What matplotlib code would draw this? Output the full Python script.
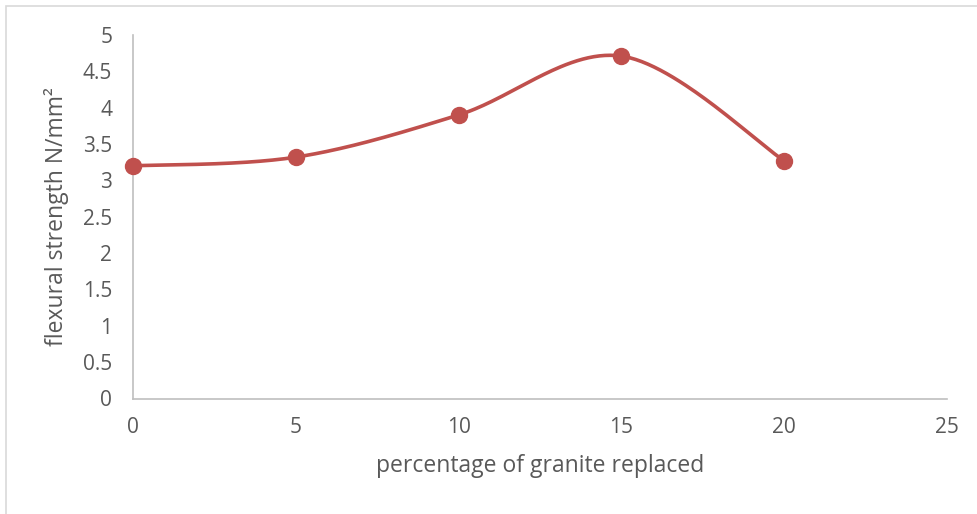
import numpy as np
import matplotlib.pyplot as plt
from matplotlib.patches import Rectangle

# data
pct = [0, 5, 10, 15, 20]
strength = [3.20, 3.32, 3.90, 4.71, 3.27]
xticks = [0, 5, 10, 15, 20, 25]
yticks = [0, 0.5, 1, 1.5, 2, 2.5, 3, 3.5, 4, 4.5, 5]


# ====================================================
def smooth(xs, ys, n=60):
	# cubic bezier through points, excel style smoothing
	x = np.array(xs, dtype=float)
	y = np.array(ys, dtype=float)
	px = np.concatenate([[x[0]], x, [x[-1]]])
	py = np.concatenate([[y[0]], y, [y[-1]]])
	out_x, out_y = [], []
	t = np.linspace(0, 1, n)
	for i in range(len(x) - 1):
		p0 = np.array([x[i], y[i]])
		p3 = np.array([x[i + 1], y[i + 1]])
		p1 = p0 + (np.array([px[i + 2], py[i + 2]]) - np.array([px[i], py[i]])) / 6
		p2 = p3 - (np.array([px[i + 3], py[i + 3]]) - np.array([px[i + 1], py[i + 1]])) / 6
		b = ((1 - t)**3)[:, None]*p0 + (3*(1 - t)**2*t)[:, None]*p1 \
			+ (3*(1 - t)*t**2)[:, None]*p2 + (t**3)[:, None]*p3
		out_x.extend(b[:, 0])
		out_y.extend(b[:, 1])
	return out_x, out_y


# ====================================================
def main():
	plt.rcParams['font.family'] = ['Open Sans', 'DejaVu Sans']
	fig = plt.figure(figsize=(9.77, 5.14), dpi=100)
	fig.patches.append(Rectangle((6/977, -0.1), 1.2, 1 - 6/514 + 0.1, transform=fig.transFigure,
		fill=False, edgecolor='#D9D9D9', linewidth=1.2))
	ax = fig.add_axes([133/977, 1 - 398.5/514, 814/977, 363.5/514])

	sx, sy = smooth(pct, strength)
	ax.plot(sx, sy, color='#C0504D', linewidth=2.6, solid_capstyle='round', clip_on=False)
	ax.plot(pct, strength, 'o', color='#C0504D', markersize=11.5, clip_on=False, zorder=5)

	ax.set_xlim(0, 25)
	ax.set_ylim(0, 5)
	ax.set_xticks(xticks)
	ax.set_yticks(yticks)
	ax.set_yticklabels([('%g' % v) for v in yticks])
	ax.tick_params(length=0, labelsize=15, colors='#595959')
	ax.tick_params(axis='y', pad=15)
	ax.tick_params(axis='x', pad=13)
	for s in ['top', 'right']:
		ax.spines[s].set_visible(False)
	for s in ['left', 'bottom']:
		ax.spines[s].set_color('#BFBFBF')
		ax.spines[s].set_linewidth(1.2)

	ax.set_xlabel('percentage of granite replaced', fontsize=16.5, color='#595959', labelpad=12)
	ax.set_ylabel('flexural strength N/mm²', fontsize=16.5, color='#595959', labelpad=10)

	fig.savefig('out.png', dpi=100)


# ====================================================
if __name__ == "__main__":
	main()
